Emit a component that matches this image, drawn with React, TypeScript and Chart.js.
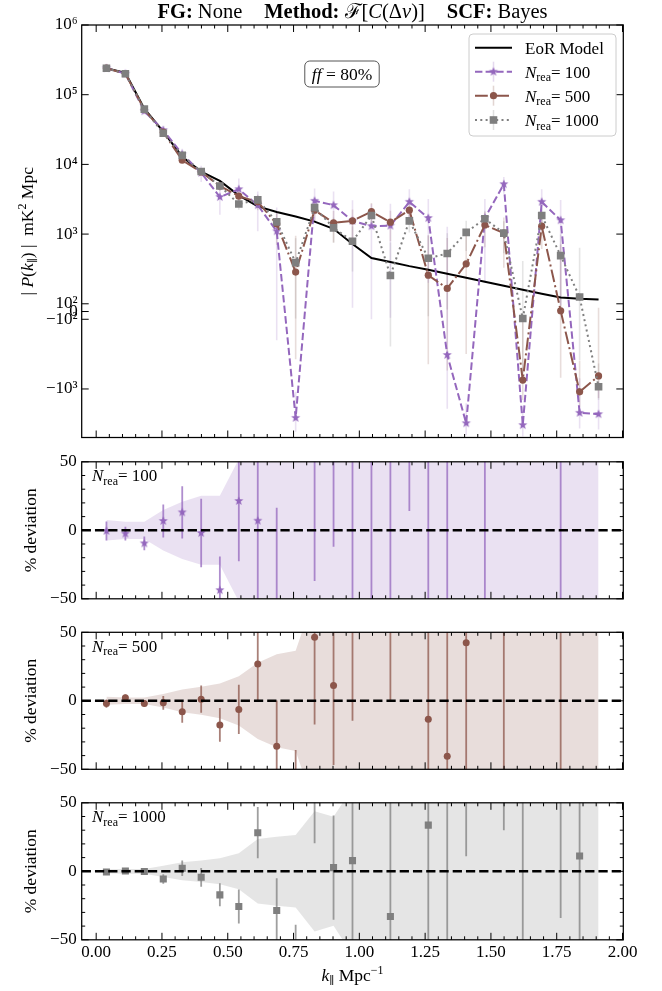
import React, { useEffect, useRef } from 'react';
import { Chart, Scale, registerables } from 'chart.js';

// ---------------- data ----------------
const kPar = [0.039, 0.111, 0.183, 0.255, 0.327, 0.399, 0.470, 0.542, 0.614, 0.686, 0.758, 0.830, 0.902, 0.974, 1.046, 1.118, 1.190, 1.262, 1.334, 1.406, 1.477, 1.549, 1.621, 1.693, 1.765, 1.837, 1.909];

const eorModel = [2.4e5, 2.05e5, 6.3e4, 2.96e4, 1.29e4, 7.9e3, 5.8e3, 3.6e3, 2.5e3, 2.07e3, 1.79e3, 1.51e3, 1.19e3, 720, 453, 397, 347, 308, 270, 236, 207, 181, 159, 139, 123, 118, 115];

const pRec100 = [2.4e5, 2.0e5, 5.8e4, 3.1e4, 1.4e4, 7.6e3, 3.4e3, 4.4e3, 2.6e3, 1.1e3, -2.6e3, 3.0e3, 2.6e3, 1.55e3, 1.3e3, 1.32e3, 2.9e3, 1.7e3, -325, -3.1e3, 1.7e3, 5.2e3, -3.3e3, 2.9e3, 1.58e3, -2.2e3, -2.3e3];
const pRec500 = [2.4e5, 2.0e5, 6.1e4, 2.9e4, 1.15e4, 7.8e3, 4.9e3, 3.5e3, 2.9e3, 1.4e3, 285, 2.2e3, 1.45e3, 1.55e3, 2.1e3, 1.48e3, 2.2e3, 257, 166, 375, 1.35e3, 1.03e3, -745, 1.3e3, 10, -1.1e3, -650];
const pRec1000 = [2.4e5, 2.0e5, 6.2e4, 2.8e4, 1.35e4, 7.9e3, 4.9e3, 2.7e3, 3.1e3, 1.5e3, 390, 2.4e3, 1.23e3, 790, 1.85e3, 255, 1.55e3, 450, 527, 1.06e3, 1.66e3, 1.03e3, -90, 1.85e3, 490, 125, -930];

const sig100 = [1.8e4, 1.3e4, 4.0e3, 4.4e3, 2.7e3, 2.0e3, 1.5e3, 1.9e3, 1.5e3, 1.3e3, 1.5e3, 1.5e3, 1.5e3, 1.5e3, 1.4e3, 1.4e3, 1.5e3, 1.5e3, 1.6e3, 1.5e3, 1.5e3, 1.4e3, 1.5e3, 1.5e3, 1.5e3, 1.5e3, 1.5e3];
const sig500 = [7.0e3, 4.9e3, 1.5e3, 1.45e3, 1.07e3, 810, 740, 650, 700, 700, 660, 700, 690, 710, 700, 690, 700, 700, 710, 690, 700, 700, 700, 690, 700, 710, 700];
const sig1000 = [3.6e3, 3.5e3, 1.07e3, 1.2e3, 850, 620, 550, 470, 590, 520, 480, 500, 480, 500, 490, 500, 500, 510, 500, 490, 500, 500, 500, 490, 500, 510, 500];

const dev100 = [-0.5, -2.4, -9.5, 6.8, 13.1, -2.0, -43.7, 21.4, 7.0, -56, -245, 99, 118, 115, 187, 232, 736, 452, -220, -1414, 721, 2773, -2175, 1986, 1185, -1964, -2100];
const devErr100 = [7, 5, 5, 12, 19, 25, 24.5, 44, 80, 72.5, 100, 136, 130, 200, 300, 350, 722, 600, 400, 600, 800, 800, 900, 1000, 1300, 1200, 1250];
const band100 = [7.5, 6.3, 6.3, 14.8, 20.9, 25.2, 25.2, 52, 80, 72, 100, 136, 130, 200, 300, 350, 722, 600, 400, 600, 800, 800, 900, 1000, 1300, 1200, 1250];

const dev500 = [-2.0, 2.2, -2.0, -1.5, -8.0, 1.2, -17.6, -6.3, 26.8, -33.2, -84, 46.3, 11.2, 115, 364, 273, 534, -13.4, -40.5, 42.4, 552, 469, -569, 835, -92, -1032, -665];
const devErr500 = [3, 2.4, 2.4, 5, 8, 10, 12.3, 18, 27, 33.5, 48, 63.6, 58, 129.6, 155, 273, 200, 227, 260, 296, 338, 560, 440, 500, 570, 590, 610];
const band500 = [2.9, 2.4, 2.4, 4.9, 8.3, 10.2, 12.7, 18, 27.8, 33.9, 36.6, 77, 58, 130, 155, 273, 200, 227, 260, 296, 338, 560, 440, 500, 570, 590, 610];

const dev1000 = [-0.5, 0.2, -0.2, -5.6, 2.2, -4.4, -17.2, -25.7, 28.2, -28.6, -78, 59, 2.7, 7.8, 308, -33, 347, 33.7, 95, 349, 702, 469, -157, 1231, 298, 11.2, -909];
const devErr1000 = [1.2, 1.5, 1.5, 3.5, 5.7, 6.8, 8.4, 12.4, 18.7, 23.5, 39, 38.6, 38, 70, 110, 126, 144, 162, 185, 338, 241, 439, 315, 360, 332, 424, 435];
const band1000 = [1.5, 1.7, 1.7, 4.1, 6.6, 7.8, 9.5, 13.1, 23.5, 25.2, 26.5, 43.9, 39.8, 61, 110, 126, 144, 162, 185, 212, 241, 276, 315, 360, 406, 424, 435];

const seriesNames = ['100', '500', '1000'];
const xTickValues = [0, 0.25, 0.5, 0.75, 1.0, 1.25, 1.5, 1.75, 2.0];
const symTickValues = [1e6, 1e5, 1e4, 1e3, 1e2, 0, -1e2, -1e3];
const symTickLabels = ['10⁶', '10⁵', '10⁴', '10³', '10²', '0', '−10²', '−10³'];
const devTickValues = [50, 0, -50];
const devTickLabels = ['50', '0', '−50'];

// ---------------- styling / layout ----------------
const W = 662, H = 991;
const AREA_LEFT = 81.7, AREA_RIGHT = 623.3;
const XMIN = -0.055, XMAX = 2.003;
const PANELS = [
  { top: 25, bottom: 437.5 },
  { top: 461.8, bottom: 598.8 },
  { top: 632.3, bottom: 769.3 },
  { top: 802.8, bottom: 939.8 },
];
const PURPLE = '#9467bd', BROWN = '#8c564b', GREY = '#7f7f7f';
const FAM = '"Liberation Serif", "DejaVu Serif", serif';
const F = (size: number, style = '') => `${style} ${size}px ${FAM}`.trim();
const TICKFONT = { family: FAM, size: 17 };

function rgba(hex: string, a: number) {
  const n = parseInt(hex.slice(1), 16);
  return `rgba(${(n >> 16) & 255},${(n >> 8) & 255},${n & 255},${a})`;
}

// ---------------- symlog scale ----------------
const LINTHRESH = 100;
const LINADJ = 0.1 / (1 - 0.1);
function symT(v: number) {
  const a = Math.abs(v);
  return a <= LINTHRESH ? (v / LINTHRESH) * LINADJ : Math.sign(v) * (LINADJ + Math.log10(a / LINTHRESH));
}
function symInv(t: number) {
  const a = Math.abs(t);
  return a <= LINADJ ? (t / LINADJ) * LINTHRESH : Math.sign(t) * LINTHRESH * Math.pow(10, a - LINADJ);
}
class SymlogScale extends Scale {
  static id = 'symlog';
  static defaults = {};
  determineDataLimits() {
    const mm = (this as any).getMinMax(false);
    const o = (this as any).options;
    (this as any).min = o.min ?? mm.min;
    (this as any).max = o.max ?? mm.max;
  }
  buildTicks() {
    return symTickValues.map((v) => ({ value: v }));
  }
  getLabelForValue(v: number) {
    return String(v);
  }
  getPixelForValue(v: number) {
    const t0 = symT((this as any).min), t1 = symT((this as any).max);
    return (this as any).getPixelForDecimal((symT(v) - t0) / (t1 - t0));
  }
  getValueForPixel(p: number) {
    const t0 = symT((this as any).min), t1 = symT((this as any).max);
    return symInv(t0 + (this as any).getDecimalForPixel(p) * (t1 - t0));
  }
}
Chart.register(...registerables, SymlogScale as any);

// ---------------- text helpers ----------------
type Run = { t?: string; f?: string; dy?: number; gap?: number };
function runsWidth(ctx: CanvasRenderingContext2D, runs: Run[]) {
  let w = 0;
  for (const r of runs) {
    if (r.gap) { w += r.gap; continue; }
    ctx.font = r.f!;
    w += ctx.measureText(r.t!).width;
  }
  return w;
}
function drawRuns(ctx: CanvasRenderingContext2D, runs: Run[], x: number, y: number, align: 'left' | 'center' | 'right' = 'left') {
  const w = runsWidth(ctx, runs);
  let cx = align === 'center' ? x - w / 2 : align === 'right' ? x - w : x;
  ctx.textAlign = 'left';
  ctx.textBaseline = 'alphabetic';
  for (const r of runs) {
    if (r.gap) { cx += r.gap; continue; }
    ctx.font = r.f!;
    ctx.fillText(r.t!, cx, y + (r.dy || 0));
    cx += ctx.measureText(r.t!).width;
  }
  return w;
}
function drawRotated(ctx: CanvasRenderingContext2D, runs: Run[], cx: number, cy: number) {
  ctx.save();
  ctx.translate(cx, cy);
  ctx.rotate(-Math.PI / 2);
  drawRuns(ctx, runs, 0, 6, 'center');
  ctx.restore();
}
function roundRectPath(ctx: CanvasRenderingContext2D, x: number, y: number, w: number, h: number, r: number) {
  ctx.beginPath();
  ctx.moveTo(x + r, y);
  ctx.lineTo(x + w - r, y);
  ctx.arcTo(x + w, y, x + w, y + r, r);
  ctx.lineTo(x + w, y + h - r);
  ctx.arcTo(x + w, y + h, x + w - r, y + h, r);
  ctx.lineTo(x + r, y + h);
  ctx.arcTo(x, y + h, x, y + h - r, r);
  ctx.lineTo(x, y + r);
  ctx.arcTo(x, y, x + r, y, r);
  ctx.closePath();
}
function makeStar(color: string, R: number) {
  const s = Math.ceil(R * 2 + 2);
  const c = document.createElement('canvas');
  c.width = s; c.height = s;
  const g = c.getContext('2d')!;
  g.beginPath();
  for (let i = 0; i < 10; i++) {
    const r = i % 2 === 0 ? R : R * 0.42;
    const a = -Math.PI / 2 + (i * Math.PI) / 5;
    g.lineTo(s / 2 + r * Math.cos(a), s / 2 + r * Math.sin(a));
  }
  g.closePath();
  g.fillStyle = color;
  g.fill();
  return c;
}
function nreaRuns(n: string): Run[] {
  return [{ t: 'N', f: F(17, 'italic') }, { t: 'rea', f: F(12), dy: 3.5 }, { t: '= ' + n, f: F(17) }];
}

// ---------------- plugins ----------------
function framePlugin(yMajor: number[], yMinor: number[]) {
  return {
    id: 'frameTicks',
    afterDraw(chart: any) {
      const { ctx, chartArea: a, scales } = chart;
      ctx.save();
      ctx.strokeStyle = '#000';
      ctx.lineWidth = 1;
      const xs = scales.x, ys = scales.y;
      const tx = (v: number, len: number) => {
        const p = xs.getPixelForValue(v);
        ctx.beginPath();
        ctx.moveTo(p, a.bottom); ctx.lineTo(p, a.bottom - len);
        ctx.moveTo(p, a.top); ctx.lineTo(p, a.top + len);
        ctx.stroke();
      };
      const ty = (v: number, len: number) => {
        const p = ys.getPixelForValue(v);
        ctx.beginPath();
        ctx.moveTo(a.left, p); ctx.lineTo(a.left + len, p);
        ctx.moveTo(a.right, p); ctx.lineTo(a.right - len, p);
        ctx.stroke();
      };
      xTickValues.forEach((v) => tx(v, 7));
      for (let i = 1; i < 40; i++) if (i % 5) tx(i * 0.05, 3.5);
      yMajor.forEach((v) => ty(v, 7));
      yMinor.forEach((v) => ty(v, 3.5));
      ctx.lineWidth = 1.25;
      ctx.strokeRect(a.left, a.top, a.right - a.left, a.bottom - a.top);
      ctx.restore();
    },
  };
}
function textPlugin(draw: (ctx: CanvasRenderingContext2D, a: any) => void) {
  return {
    id: 'texts',
    afterDraw(chart: any) {
      const ctx = chart.ctx;
      ctx.save();
      ctx.fillStyle = '#000';
      draw(ctx, chart.chartArea);
      ctx.restore();
    },
  };
}
const zeroLinePlugin = {
  id: 'zeroLine',
  afterDatasetsDraw(chart: any) {
    const { ctx, chartArea: a, scales } = chart;
    const y = scales.y.getPixelForValue(0);
    ctx.save();
    ctx.strokeStyle = '#000';
    ctx.lineWidth = 2.5;
    ctx.setLineDash([9.25, 4]);
    ctx.beginPath();
    ctx.moveTo(a.left, y);
    ctx.lineTo(a.right, y);
    ctx.stroke();
    ctx.restore();
  },
};

// ---------------- chart configs ----------------
function xScaleOpts(show: boolean) {
  const o: any = {
    type: 'linear', min: XMIN, max: XMAX, offset: false, display: show,
    grid: { display: false, drawTicks: false }, border: { display: false },
    ticks: { autoSkip: false, maxRotation: 0, padding: 3, font: TICKFONT, color: '#000', callback: (v: number) => Number(v).toFixed(2) },
    afterBuildTicks: (s: any) => { s.ticks = xTickValues.map((v) => ({ value: v })); },
  };
  if (show) o.afterFit = (s: any) => { s.height = 30; };
  return o;
}

function topConfig(star: HTMLCanvasElement): any {
  const series = [
    { rec: pRec100, sig: sig100, color: PURPLE, dash: [7.4, 3.2], style: star as any, r: 5, order: 3 },
    { rec: pRec500, sig: sig500, color: BROWN, dash: [12.8, 3.2, 2, 3.2], style: 'circle', r: 3.6, order: 2 },
    { rec: pRec1000, sig: sig1000, color: GREY, dash: [2, 3.3], style: 'rect', r: 5.4, order: 1 },
  ];
  const datasets: any[] = [];
  series.forEach((s) =>
    datasets.push({
      type: 'bar',
      data: kPar.map((k, i) => ({ x: k, y: [s.rec[i] - s.sig[i], s.rec[i] + s.sig[i]] })),
      backgroundColor: rgba(s.color, 0.2), borderWidth: 0, barThickness: 1.6, grouped: false,
      inflateAmount: 0, clip: 0, order: 20,
    })
  );
  datasets.push({
    type: 'line', data: kPar.map((k, i) => ({ x: k, y: eorModel[i] })),
    borderColor: '#000', borderWidth: 2, pointRadius: 0, fill: false, order: 10,
  });
  series.forEach((s) =>
    datasets.push({
      type: 'line', data: kPar.map((k, i) => ({ x: k, y: s.rec[i] })),
      borderColor: s.color, borderWidth: 2, borderDash: s.dash, borderJoinStyle: 'round',
      pointStyle: s.style, pointRadius: s.r, pointBackgroundColor: s.color, pointBorderColor: s.color,
      pointBorderWidth: 0, fill: false, order: s.order,
    })
  );
  const p = PANELS[0];
  return {
    type: 'line',
    data: { datasets },
    options: {
      animation: false, responsive: false, maintainAspectRatio: false, devicePixelRatio: 1,
      events: [],
      layout: { padding: { left: 0, right: W - AREA_RIGHT, top: p.top, bottom: H - p.bottom } },
      plugins: { legend: { display: false }, tooltip: { enabled: false } },
      scales: {
        x: xScaleOpts(false),
        y: {
          type: 'symlog', min: -4970, max: 1e6,
          grid: { display: false, drawTicks: false }, border: { display: false },
          ticks: {
            autoSkip: false, padding: 4, font: TICKFONT, color: '#000',
            callback: (v: number) => symTickLabels[symTickValues.indexOf(v)] ?? '',
          },
          afterFit: (s: any) => { s.width = AREA_LEFT; },
        },
      },
    },
    plugins: [
      framePlugin(symTickValues, []),
      textPlugin((ctx, a) => {
        // title
        const TS = 20.5;
        const titleRuns: Run[] = [
          { t: 'FG:', f: F(TS, 'bold') }, { t: ' None', f: F(TS) }, { gap: 22 },
          { t: 'Method:', f: F(TS, 'bold') }, { t: ' ℱ[', f: F(TS) }, { t: 'C', f: F(TS, 'italic') },
          { t: '(Δ', f: F(TS) }, { t: 'ν', f: F(TS, 'italic') }, { t: ')]', f: F(TS) }, { gap: 22 },
          { t: 'SCF:', f: F(TS, 'bold') }, { t: ' Bayes', f: F(TS) },
        ];
        drawRuns(ctx, titleRuns, (a.left + a.right) / 2, 18, 'center');
        // ff box
        const ff: Run[] = [{ t: 'ff', f: F(17.5, 'italic') }, { t: ' = 80%', f: F(17.5) }];
        const fw = runsWidth(ctx, ff);
        ctx.strokeStyle = '#555';
        ctx.lineWidth = 1;
        roundRectPath(ctx, 342 - fw / 2 - 7, 61, fw + 14, 26, 5);
        ctx.stroke();
        drawRuns(ctx, ff, 342, 80, 'center');
        // legend
        roundRectPath(ctx, 469, 34, 147, 102, 4);
        ctx.fillStyle = 'rgba(255,255,255,0.8)';
        ctx.fill();
        ctx.strokeStyle = '#cccccc';
        ctx.stroke();
        const rowsY = [47.7, 71.7, 95.7, 120];
        const x0 = 475, x1 = 512, xm = (x0 + x1) / 2;
        ctx.strokeStyle = '#000';
        ctx.lineWidth = 2;
        ctx.beginPath(); ctx.moveTo(x0, rowsY[0]); ctx.lineTo(x1, rowsY[0]); ctx.stroke();
        ctx.fillStyle = '#000';
        drawRuns(ctx, [{ t: 'EoR Model', f: F(17) }], 525, rowsY[0] + 6);
        series.forEach((s, i) => {
          const y = rowsY[i + 1];
          ctx.strokeStyle = rgba(s.color, 0.25);
          ctx.lineWidth = 1.5;
          ctx.setLineDash([]);
          ctx.beginPath(); ctx.moveTo(xm, y - 10); ctx.lineTo(xm, y + 10); ctx.stroke();
          ctx.strokeStyle = s.color;
          ctx.lineWidth = 2;
          ctx.setLineDash(s.dash);
          ctx.beginPath(); ctx.moveTo(x0, y); ctx.lineTo(x1, y); ctx.stroke();
          ctx.setLineDash([]);
          ctx.fillStyle = s.color;
          if (i === 0) ctx.drawImage(star, xm - star.width / 2, y - star.height / 2);
          else if (i === 1) { ctx.beginPath(); ctx.arc(xm, y, 3.6, 0, Math.PI * 2); ctx.fill(); }
          else ctx.fillRect(xm - 3.8, y - 3.8, 7.6, 7.6);
          ctx.fillStyle = '#000';
          drawRuns(ctx, nreaRuns(seriesNames[i]), 525, y + 6);
        });
        // y title
        drawRotated(ctx, [
          { t: '| ', f: F(17.5) }, { t: 'P', f: F(17.5, 'italic') }, { t: '(', f: F(17.5) },
          { t: 'k', f: F(17.5, 'italic') }, { t: '∥', f: F(11), dy: 3 }, { t: ')', f: F(17.5) },
          { t: ' |  mK', f: F(17.5) }, { t: '2', f: F(12), dy: -7 }, { t: ' Mpc', f: F(17.5) },
        ], 27, (a.top + a.bottom) / 2);
      }),
    ],
  };
}

const devSeries = [
  { dev: dev100, err: devErr100, band: band100, color: PURPLE, style: 'star', r: 4.5 },
  { dev: dev500, err: devErr500, band: band500, color: BROWN, style: 'circle', r: 3.5 },
  { dev: dev1000, err: devErr1000, band: band1000, color: GREY, style: 'rect', r: 5 },
];

function devConfig(idx: number, star: HTMLCanvasElement): any {
  const s = devSeries[idx];
  const p = PANELS[idx + 1];
  const showX = idx === 2;
  const datasets: any[] = [
    {
      type: 'line', data: kPar.map((k, i) => ({ x: k, y: s.band[i] })),
      borderColor: 'rgba(0,0,0,0)', borderWidth: 0, pointRadius: 0,
      fill: '+1', backgroundColor: rgba(s.color, 0.2), clip: 0, order: 30,
    },
    {
      type: 'line', data: kPar.map((k, i) => ({ x: k, y: -s.band[i] })),
      borderColor: 'rgba(0,0,0,0)', borderWidth: 0, pointRadius: 0, fill: false, clip: 0, order: 30,
    },
    {
      type: 'bar', data: kPar.map((k, i) => ({ x: k, y: [s.dev[i] - s.err[i], s.dev[i] + s.err[i]] })),
      backgroundColor: rgba(s.color, 0.75), borderWidth: 0, barThickness: 1.8, grouped: false,
      inflateAmount: 0, clip: 0, order: 20,
    },
    {
      type: 'line', showLine: false, data: kPar.map((k, i) => ({ x: k, y: s.dev[i] })),
      pointStyle: s.style === 'star' ? star : s.style, pointRadius: s.r,
      pointBackgroundColor: s.color, pointBorderColor: s.color, pointBorderWidth: 0, clip: 0, order: 1,
    },
  ];
  return {
    type: 'line',
    data: { datasets },
    options: {
      animation: false, responsive: false, maintainAspectRatio: false, devicePixelRatio: 1,
      events: [],
      layout: { padding: { left: 0, right: W - AREA_RIGHT, top: p.top, bottom: showX ? H - p.bottom - 30 : H - p.bottom } },
      plugins: { legend: { display: false }, tooltip: { enabled: false } },
      scales: {
        x: xScaleOpts(showX),
        y: {
          type: 'linear', min: -50, max: 50,
          grid: { display: false, drawTicks: false }, border: { display: false },
          ticks: {
            autoSkip: false, padding: 5, font: TICKFONT, color: '#000',
            callback: (v: number) => devTickLabels[devTickValues.indexOf(v)] ?? '',
          },
          afterBuildTicks: (sc: any) => { sc.ticks = devTickValues.map((v) => ({ value: v })); },
          afterFit: (sc: any) => { sc.width = AREA_LEFT; },
        },
      },
    },
    plugins: [
      zeroLinePlugin,
      framePlugin(devTickValues, [-40, -30, -20, -10, 10, 20, 30, 40]),
      textPlugin((ctx, a) => {
        drawRuns(ctx, nreaRuns(seriesNames[idx]), 92, a.top + 19.5);
        drawRotated(ctx, [{ t: '% deviation', f: F(17.5) }], 30, (a.top + a.bottom) / 2);
        if (showX) {
          drawRuns(ctx, [
            { t: 'k', f: F(17.5, 'italic') }, { t: '∥', f: F(11), dy: 3 },
            { t: ' Mpc', f: F(17.5) }, { t: '−1', f: F(12), dy: -7 },
          ], (a.left + a.right) / 2, 981, 'center');
        }
      }),
    ],
  };
}

export default function App() {
  const r0 = useRef<HTMLCanvasElement>(null);
  const r1 = useRef<HTMLCanvasElement>(null);
  const r2 = useRef<HTMLCanvasElement>(null);
  const r3 = useRef<HTMLCanvasElement>(null);
  useEffect(() => {
    const star = makeStar(PURPLE, 4.8);
    const charts = [
      new Chart(r0.current!, topConfig(star)),
      new Chart(r1.current!, devConfig(0, star)),
      new Chart(r2.current!, devConfig(1, star)),
      new Chart(r3.current!, devConfig(2, star)),
    ];
    return () => charts.forEach((c) => c.destroy());
  }, []);
  const cs: React.CSSProperties = { position: 'absolute', left: 0, top: 0, width: W, height: H };
  return (
    <div style={{ position: 'absolute', left: 0, top: 0, width: W, height: H, background: '#fff' }}>
      <canvas ref={r0} width={W} height={H} style={cs} />
      <canvas ref={r1} width={W} height={H} style={cs} />
      <canvas ref={r2} width={W} height={H} style={cs} />
      <canvas ref={r3} width={W} height={H} style={cs} />
    </div>
  );
}
